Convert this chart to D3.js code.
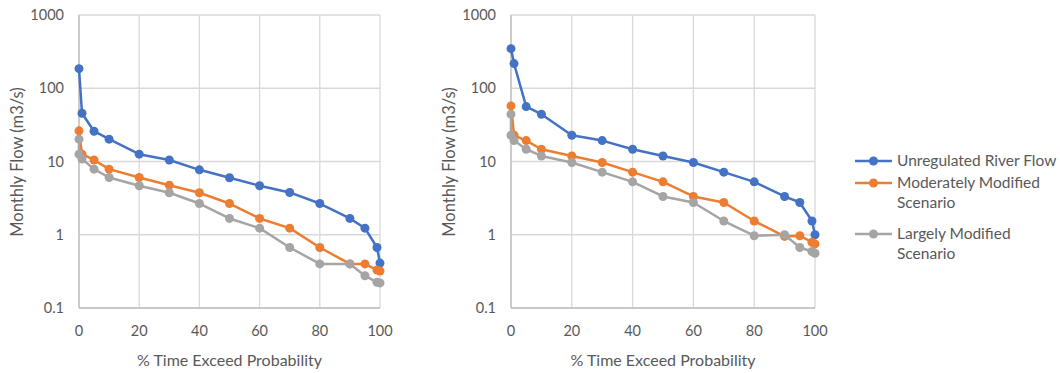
<!DOCTYPE html>
<html><head><meta charset="utf-8">
<script src="https://cdn.jsdelivr.net/npm/d3@7"></script>
<style>body{margin:0;background:#fff}svg{display:block}text{font-family:Lato,"Open Sans",sans-serif;fill:#595959}</style>
</head><body><svg id="c" width="1060" height="373"></svg>
<script>
const seriesNames = ["Unregulated River Flow", "Moderately Modified Scenario", "Largely Modified Scenario"];
const colors = ["#4472C4", "#ED7D31", "#A5A5A5"];
const xTicks = [0, 20, 40, 60, 80, 100];
const yTicks = [0.1, 1, 10, 100, 1000];

const xStd = [0, 1, 5, 10, 20, 30, 40, 50, 60, 70, 80, 90, 95, 99, 100];
const xGray = [0, 0, 1, 5, 10, 20, 30, 40, 50, 60, 70, 80, 90, 95, 99, 100];

// Left chart
const leftBlue = [185, 45.6, 25.9, 20.2, 12.6, 10.5, 7.7, 6.0, 4.66, 3.78, 2.67, 1.67, 1.23, 0.67, 0.41];
const leftOrange = [26.2, 12.6, 10.5, 7.86, 6.05, 4.75, 3.74, 2.67, 1.67, 1.23, 0.67, 0.40, 0.40, 0.33, 0.32];
const leftGray = [20.2, 12.6, 10.8, 7.86, 6.05, 4.66, 3.74, 2.67, 1.67, 1.23, 0.67, 0.40, 0.40, 0.276, 0.224, 0.22];

// Right chart
const rightBlue = [347, 217, 56.2, 44.2, 22.8, 19.3, 14.7, 11.9, 9.7, 7.16, 5.28, 3.33, 2.76, 1.54, 1.0];
const rightOrange = [57.4, 22.8, 19.3, 14.7, 11.9, 9.7, 7.16, 5.28, 3.33, 2.76, 1.54, 0.95, 0.97, 0.79, 0.75];
const rightGray = [44.2, 22.8, 19.3, 14.7, 11.9, 9.7, 7.16, 5.28, 3.33, 2.76, 1.54, 0.97, 1.0, 0.67, 0.59, 0.56];

const svg = d3.select("#c");

function drawChart(x0, x1, yTitleX, data) {
  const top = 15, bottom = 308;
  const x = d3.scaleLinear().domain([0, 100]).range([x0, x1]);
  const y = d3.scaleLog().domain([0.1, 1000]).range([bottom, top]);
  const g = svg.append("g");
  g.selectAll(".vg").data(xTicks).join("line")
    .attr("x1", d => x(d)).attr("x2", d => x(d)).attr("y1", top).attr("y2", bottom)
    .attr("stroke", "#d9d9d9").attr("stroke-width", 1.3);
  g.selectAll(".hg").data(yTicks).join("line")
    .attr("x1", x0).attr("x2", x1).attr("y1", d => y(d)).attr("y2", d => y(d))
    .attr("stroke", "#d9d9d9").attr("stroke-width", 1.3);
  g.append("line").attr("x1", x0).attr("x2", x1).attr("y1", bottom).attr("y2", bottom).attr("stroke", "#bfbfbf").attr("stroke-width", 1.3);
  g.append("line").attr("x1", x0).attr("x2", x0).attr("y1", top).attr("y2", bottom).attr("stroke", "#bfbfbf").attr("stroke-width", 1.3);
  g.selectAll(".xl").data(xTicks).join("text")
    .attr("x", d => x(d)).attr("y", 331).attr("dy", "0.35em").attr("text-anchor", "middle")
    .attr("font-size", 14.5).text(d => d);
  g.selectAll(".yl").data(yTicks).join("text")
    .attr("x", x0 - 15).attr("y", d => y(d)).attr("dy", "0.35em").attr("text-anchor", "end")
    .attr("font-size", 14.5).text(d => d);
  g.append("text").attr("x", (x0 + x1) / 2).attr("y", 360).attr("dy", "0.35em").attr("text-anchor", "middle")
    .attr("font-size", 16).text("% Time Exceed Probability");
  g.append("text").attr("transform", `translate(${yTitleX},162) rotate(-90)`).attr("dy", "0.35em")
    .attr("text-anchor", "middle").attr("font-size", 16.5).text("Monthly Flow (m3/s)");
  const line = d3.line().x(d => x(d[0])).y(d => y(d[1]));
  data.forEach((s, i) => {
    const pts = s.xs.map((xv, j) => [xv, s.ys[j]]);
    g.append("path").datum(pts).attr("d", line).attr("fill", "none")
      .attr("stroke", colors[i]).attr("stroke-width", 2.5).attr("stroke-linejoin", "round");
    g.selectAll(null).data(pts).join("circle")
      .attr("cx", d => x(d[0])).attr("cy", d => y(d[1])).attr("r", 4.5).attr("fill", colors[i]);
  });
}

drawChart(79, 380, 17, [
  {xs: xStd, ys: leftBlue}, {xs: xStd, ys: leftOrange}, {xs: xGray, ys: leftGray}
]);
drawChart(511, 815, 449, [
  {xs: xStd, ys: rightBlue}, {xs: xStd, ys: rightOrange}, {xs: xGray, ys: rightGray}
]);

const legendItems = [
  {lines: ["Unregulated River Flow"], y: 161},
  {lines: ["Moderately Modified", "Scenario"], y: 183},
  {lines: ["Largely Modified", "Scenario"], y: 234}
];
const lg = svg.append("g");
legendItems.forEach((it, i) => {
  lg.append("line").attr("x1", 855).attr("x2", 892).attr("y1", it.y).attr("y2", it.y)
    .attr("stroke", colors[i]).attr("stroke-width", 2.5);
  lg.append("circle").attr("cx", 873.5).attr("cy", it.y).attr("r", 4.5).attr("fill", colors[i]);
  it.lines.forEach((t, k) => {
    lg.append("text").attr("x", 897).attr("y", it.y + k * 20).attr("dy", "0.35em")
      .attr("font-size", 15.5).text(t);
  });
});
</script></body></html>
